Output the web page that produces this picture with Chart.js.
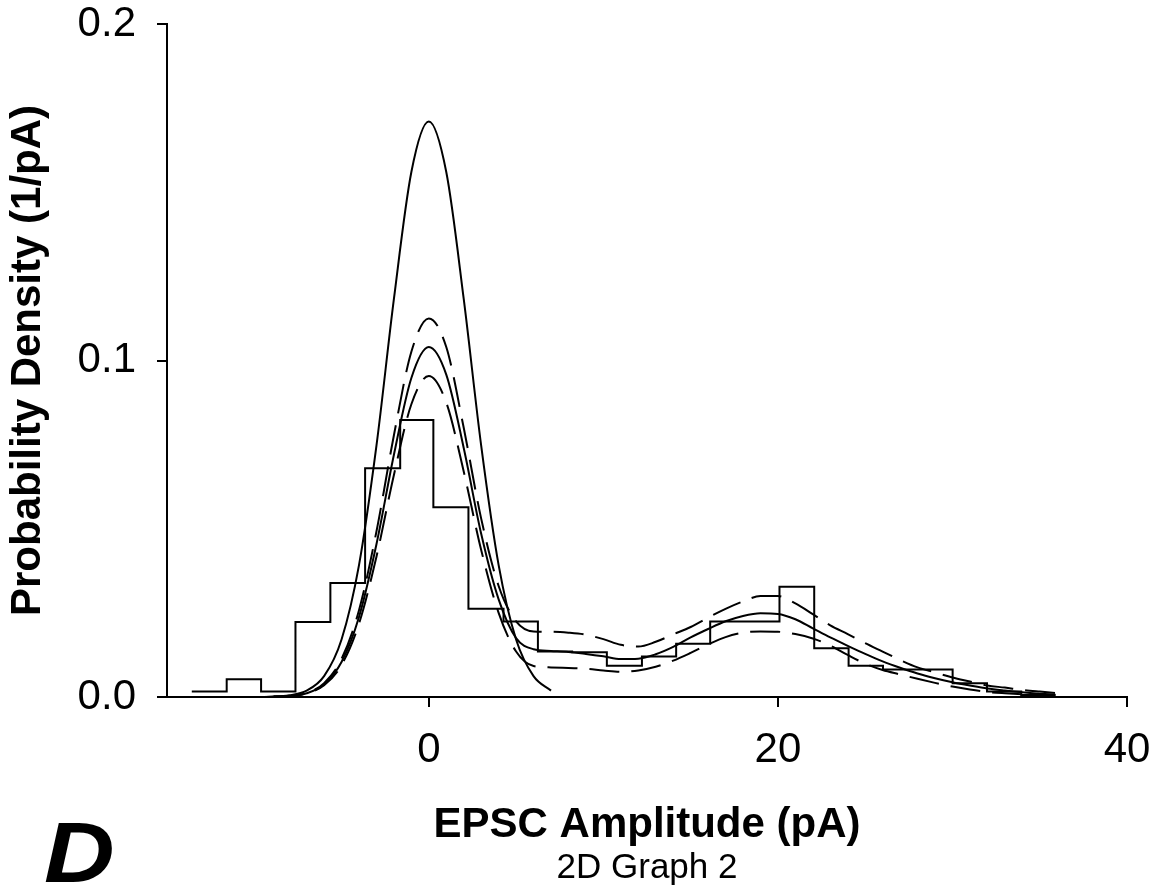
<!DOCTYPE html>
<html>
<head>
<meta charset="utf-8">
<script src="https://cdn.jsdelivr.net/npm/chart.js@4.4.0/dist/chart.umd.min.js"></script>
<style>
  html, body { margin: 0; padding: 0; background: #fff; }
  #wrap { width: 1154px; height: 892px; position: relative; }
</style>
</head>
<body>
<div id="wrap"><canvas id="chart"></canvas></div>
<script>
// histogram: bin edges (pA) and heights (1/pA)
var binEdges = [-13.58, -11.58, -9.61, -7.64, -5.64, -3.65, -1.64, 0.26, 2.27, 4.28, 6.25,
                8.21, 10.20, 12.21, 14.17, 16.12, 18.13, 20.09, 22.08, 24.05, 26.02, 27.98,
                30.01, 31.98, 33.94, 35.89];
var binHeights = [0.0016, 0.0053, 0.0016, 0.0223, 0.0339, 0.0680, 0.0823, 0.0564, 0.0262, 0.0224,
                  0.0135, 0.0133, 0.0093, 0.0120, 0.0158, 0.0224, 0.0224, 0.0328, 0.0145, 0.0093,
                  0.0082, 0.0082, 0.0041, 0.0016, 0.0006];

// fitted curves
var fitX = [-13.7, -13, -12, -11, -10, -9, -8, -7, -6, -5, -4, -3, -2, -1, 0, 1, 2, 3, 4, 5,
            6, 7, 8, 9, 10, 11, 12, 13, 14, 15, 16, 17, 18, 19, 20, 21, 22, 23, 24, 25,
            26, 27, 28, 29, 30, 31, 32, 33, 34, 35, 35.9];
var fitMid = [0, 0, 0, 0, 0, 0.0001, 0.0003, 0.0011, 0.0038, 0.0104, 0.0238, 0.0454, 0.0720, 0.0948, 0.1040, 0.0958, 0.0740, 0.0485, 0.0290, 0.0175,
              0.0142, 0.0137, 0.0134, 0.0128, 0.0121, 0.0113, 0.0114, 0.0127, 0.0149, 0.0177, 0.0202, 0.0225, 0.0241, 0.0249, 0.0247, 0.0231, 0.0204, 0.0177, 0.0152, 0.0128,
              0.0106, 0.0087, 0.0070, 0.0056, 0.0044, 0.0034, 0.0025, 0.0019, 0.0014, 0.0010, 0.0007];
var fitUpper = [0, 0, 0, 0, 0, 0.0001, 0.0003, 0.0012, 0.0041, 0.0113, 0.0258, 0.0492, 0.0778, 0.1026, 0.1125, 0.1040, 0.0800, 0.0530, 0.0330, 0.0225,
                0.0195, 0.0194, 0.0191, 0.0185, 0.0172, 0.0155, 0.0150, 0.0164, 0.0186, 0.0208, 0.0236, 0.0262, 0.0284, 0.0300, 0.0300, 0.0278, 0.0246, 0.0213, 0.0187, 0.0160,
                0.0135, 0.0110, 0.0088, 0.0073, 0.0058, 0.0046, 0.0034, 0.0028, 0.0021, 0.0016, 0.0012];
var fitLower = [0, 0, 0, 0, 0, 0.0001, 0.0003, 0.0011, 0.0035, 0.0095, 0.0218, 0.0417, 0.0660, 0.0870, 0.0954, 0.0875, 0.0670, 0.0437, 0.0250, 0.0135,
                0.0092, 0.0088, 0.0086, 0.0084, 0.0079, 0.0075, 0.0079, 0.0090, 0.0108, 0.0131, 0.0156, 0.0178, 0.0191, 0.0195, 0.0194, 0.0187, 0.0174, 0.0153, 0.0125, 0.0099,
                0.0080, 0.0067, 0.0054, 0.0042, 0.0031, 0.0022, 0.0015, 0.0011, 0.0008, 0.0006, 0.0005];

// noise (single peak) curve
var noiseX = [-13.7, -13, -12, -11, -10, -9, -8, -7, -6, -5, -4, -3, -2, -1, 0, 1, 2, 3, 4, 5, 6, 7];
var noiseY = [0, 0, 0, 0, 0, 0.0001, 0.0005, 0.0019, 0.0062, 0.0171, 0.0392, 0.0747, 0.1183, 0.1560, 0.1710,
              0.1560, 0.1183, 0.0747, 0.0392, 0.0171, 0.0062, 0.0019];

var xTicks = [0, 20, 40];
var yTicks = [0, 0.1, 0.2];
var xTitle = 'EPSC Amplitude (pA)';
var yTitle = 'Probability Density (1/pA)';
var subTitle = '2D Graph 2';
var panelLetter = 'D';

var FONT = '"Liberation Sans", Arial, sans-serif';

function pairs(xs, ys) {
    return xs.map(function(x, i) { return {x: x, y: ys[i]}; });
}

// each edge carries the height of the bin to its right; the last edge closes the last bin
var histPoints = binEdges.map(function(x, i) {
    return {x: x, y: binHeights[Math.min(i, binHeights.length - 1)]};
});

function curve(points, dash) {
    return {
        data: points,
        borderColor: '#000',
        borderWidth: 2,
        borderDash: dash || [],
        pointRadius: 0,
        fill: false,
        cubicInterpolationMode: 'monotone'
    };
}

var hist = {
    data: histPoints,
    borderColor: '#000',
    borderWidth: 2,
    pointRadius: 0,
    fill: false,
    stepped: 'before'
};

var textPlugin = {
    id: 'panelText',
    afterDraw: function(chart) {
        var ctx = chart.ctx;
        var area = chart.chartArea;
        ctx.save();
        ctx.fillStyle = '#000';
        ctx.textBaseline = 'alphabetic';
        ctx.textAlign = 'center';
        ctx.font = '35px ' + FONT;
        ctx.fillText(subTitle, (area.left + area.right) / 2, 878);
        // panel letter is a bit wider than the plain font
        ctx.textAlign = 'left';
        ctx.font = 'italic bold 85px ' + FONT;
        ctx.translate(44, 882);
        ctx.scale(1.15, 1);
        ctx.fillText(panelLetter, 0, 0);
        ctx.restore();
    }
};

var axisGrid = {drawOnChartArea: false, drawTicks: true, tickLength: 10, color: '#000', lineWidth: 2};
var axisBorder = {display: true, color: '#000', width: 2};

new Chart(document.getElementById('chart').getContext('2d'), {
    type: 'line',
    data: {
        datasets: [
            hist,
            curve(pairs(noiseX, noiseY)),
            curve(pairs(fitX, fitMid)),
            curve(pairs(fitX, fitUpper), [30, 12]),
            curve(pairs(fitX, fitLower), [30, 12])
        ]
    },
    options: {
        responsive: true,
        maintainAspectRatio: false,
        animation: false,
        layout: {padding: {left: 0, right: 27, top: 24, bottom: 0}},
        plugins: {legend: {display: false}, tooltip: {enabled: false}},
        scales: {
            x: {
                type: 'linear',
                min: -15,
                max: 40,
                afterBuildTicks: function(scale) { scale.ticks = xTicks.map(function(v) { return {value: v}; }); },
                afterFit: function(scale) {
                    scale.height = 195;
                    scale.paddingLeft = 0;
                    scale.paddingRight = 0;
                },
                ticks: {color: '#000', padding: 22, maxRotation: 0, autoSkip: false,
                        font: {family: FONT, size: 42, lineHeight: 1}},
                grid: axisGrid,
                border: axisBorder,
                title: {display: true, text: xTitle, color: '#000', padding: {top: 0, bottom: 41},
                        font: {family: FONT, size: 42, weight: 'bold'}}
            },
            y: {
                min: 0,
                max: 0.2,
                afterBuildTicks: function(scale) { scale.ticks = yTicks.map(function(v) { return {value: v}; }); },
                afterFit: function(scale) {
                    scale.width = 167;
                    scale.paddingTop = 0;
                    scale.paddingBottom = 0;
                },
                ticks: {color: '#000', padding: 21,
                        font: {family: FONT, size: 42, lineHeight: 1},
                        callback: function(v) { return v.toFixed(1); }},
                grid: axisGrid,
                border: axisBorder,
                title: {display: true, text: yTitle, color: '#000', padding: {top: 3, bottom: 0},
                        font: {family: FONT, size: 42, weight: 'bold'}}
            }
        }
    },
    plugins: [textPlugin]
});
</script>
</body>
</html>
